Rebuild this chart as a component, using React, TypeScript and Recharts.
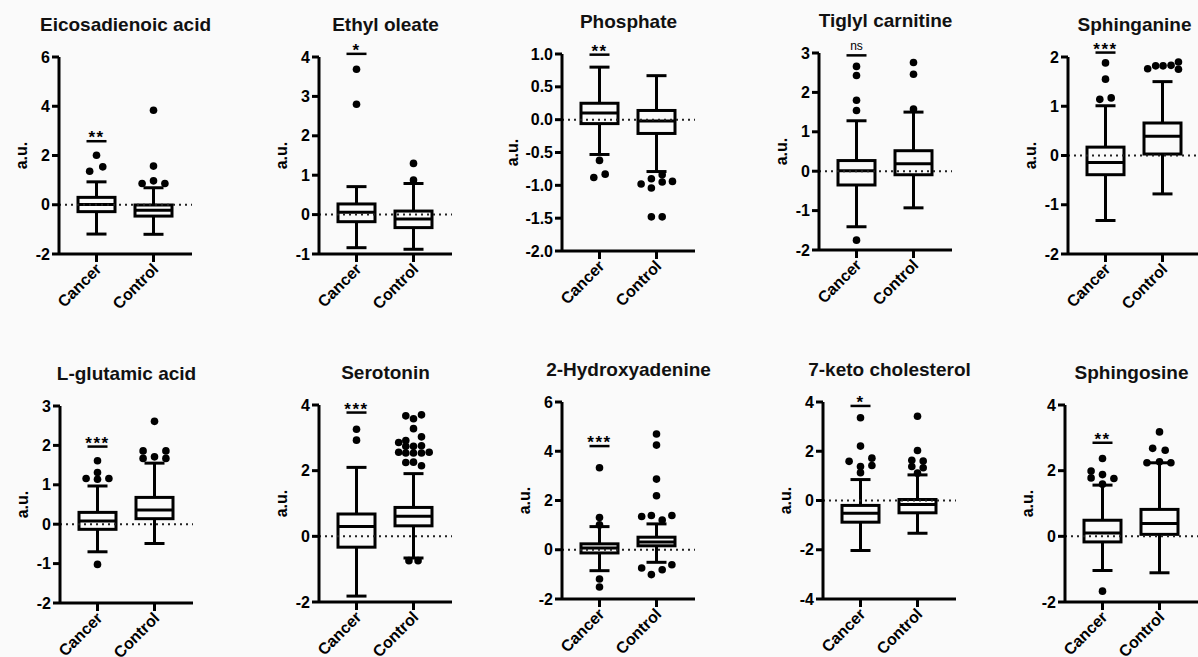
import React from 'react';
import { ComposedChart, Bar, Scatter, XAxis, YAxis, ReferenceLine, ReferenceDot } from 'recharts';

const groups = ['Cancer', 'Control'];

const titles = [
  'Eicosadienoic acid',
  'Ethyl oleate',
  'Phosphate',
  'Tiglyl carnitine',
  'Sphinganine',
  'L-glutamic acid',
  'Serotonin',
  '2-Hydroxyadenine',
  '7-keto cholesterol',
  'Sphingosine',
];

const yTicks = [
  [-2, 0, 2, 4, 6],
  [-1, 0, 1, 2, 3, 4],
  [-2, -1.5, -1, -0.5, 0, 0.5, 1],
  [-2, -1, 0, 1, 2, 3],
  [-2, -1, 0, 1, 2],
  [-2, -1, 0, 1, 2, 3],
  [-2, 0, 2, 4],
  [-2, 0, 2, 4, 6],
  [-4, -2, 0, 2, 4],
  [-2, 0, 2, 4],
];

// [min, q1, median, q3, max]
const cancerStats = [
  [-1.19, -0.28, 0.01, 0.3, 0.93],
  [-0.84, -0.18, 0.06, 0.27, 0.71],
  [-0.53, -0.06, 0.1, 0.25, 0.8],
  [-1.41, -0.35, 0.01, 0.27, 1.28],
  [-1.32, -0.39, -0.14, 0.17, 1.01],
  [-0.7, -0.13, 0.08, 0.3, 0.97],
  [-1.82, -0.33, 0.3, 0.68, 2.1],
  [-0.85, -0.13, 0.07, 0.24, 0.94],
  [-2.03, -0.88, -0.52, -0.2, 0.85],
  [-1.04, -0.17, 0.1, 0.49, 1.56],
];

const controlStats = [
  [-1.2, -0.46, -0.22, -0.01, 0.69],
  [-0.88, -0.33, -0.11, 0.09, 0.79],
  [-0.79, -0.21, -0.02, 0.14, 0.67],
  [-0.93, -0.09, 0.19, 0.52, 1.5],
  [-0.78, 0.03, 0.39, 0.66, 1.5],
  [-0.49, 0.14, 0.36, 0.68, 1.55],
  [-0.66, 0.32, 0.61, 0.88, 1.91],
  [-0.51, 0.16, 0.31, 0.51, 1.05],
  [-1.33, -0.5, -0.16, 0.04, 1.04],
  [-1.11, 0.06, 0.39, 0.82, 2.24],
];

// [horizontal jitter in group units, value]
const cancerOutliers = [
  [[-0.12, 1.36], [0, 2.01], [0.11, 1.54]],
  [[0, 3.69], [0, 2.8]],
  [[0, -0.62], [-0.1, -0.88], [0.1, -0.83]],
  [[0, 2.66], [0, 2.43], [0, 1.8], [0, 1.54], [0, -1.75]],
  [[0, 1.88], [0, 1.55], [-0.1, 1.14], [0.1, 1.17]],
  [[0, 1.61], [0, 1.31], [-0.2, 1.16], [0, 1.14], [0.2, 1.16], [0, -1.02]],
  [[0, 3.26], [0, 2.93]],
  [[0, 3.33], [0, 1.31], [0, 1.01], [0, -1.19], [0, -1.51]],
  [[0, 3.36], [0, 2.21], [-0.2, 1.59], [0.2, 1.72], [0, 1.38], [0.2, 1.42], [0, 1.13]],
  [[0, 2.37], [-0.2, 1.99], [-0.2, 1.78], [0, 1.88], [0.2, 1.76], [0, 1.59], [0, -1.67]],
];

const controlOutliers = [
  [[0, 3.84], [0, 1.57], [-0.2, 0.86], [0, 0.97], [0.2, 0.86]],
  [[0, 1.3], [0, 0.88]],
  [[0.1, -0.84], [-0.27, -0.98], [-0.09, -0.9], [0.1, -0.95], [0.28, -0.94], [-0.09, -1.04], [-0.09, -1.48], [0.1, -1.48]],
  [[0, 2.76], [0, 2.46], [0, 1.58]],
  [[-0.26, 1.76], [-0.12, 1.82], [0.01, 1.82], [0.15, 1.83], [0.28, 1.9], [0.28, 1.75]],
  [[0, 2.61], [-0.2, 1.86], [0.2, 1.86], [-0.2, 1.67], [0, 1.71], [0.2, 1.67]],
  [
    [-0.135, 3.67], [0, 3.58], [0.14, 3.7], [0, 3.28],
    [-0.26, 2.86], [-0.135, 2.92], [0.14, 3.03],
    [-0.135, 2.74], [0, 2.74], [0.14, 2.76],
    [-0.26, 2.56], [-0.135, 2.54], [0, 2.54], [0.14, 2.54], [0.275, 2.56],
    [-0.135, 2.25], [0, 2.26], [0.14, 2.15],
    [-0.08, -0.74], [0.08, -0.74],
  ],
  [[0, 4.7], [0, 4.25], [0, 2.87], [0, 2.19], [-0.26, 1.35], [-0.09, 1.39], [0.1, 1.21], [0.27, 1.39], [-0.26, -0.74], [-0.09, -1.01], [0.1, -0.81], [0.27, -0.61]],
  [[0, 3.42], [0, 2.03], [-0.1, 1.63], [0.1, 1.6], [-0.1, 1.38], [0.1, 1.33], [0, 1.11]],
  [[0, 3.18], [-0.12, 2.68], [0.1, 2.62], [-0.22, 2.24], [0, 2.27], [0.2, 2.24]],
];

const sigValue = [2.58, 4.08, 0.99, 2.94, 2.09, 1.97, 3.77, 4.21, 3.84, 2.85];
const sigLabel = ['**', '*', '**', 'ns', '***', '***', '***', '***', '*', '**'];

// layout: where each panel's y axis line and top tick sit on the page
const axisLeft = [59, 319, 562, 819, 1068, 60, 319, 562, 823, 1065];
const axisTop = [57, 57, 54, 53, 57, 406, 405, 402, 402, 405];

const FONT = '"Liberation Sans", Arial, Helvetica, sans-serif';
const PLOT_W = 133;
const PLOT_H = 197;
const TOP = 60;
const LEFT = 60;
const RIGHT = 10;
const X_AXIS_H = 70;
const CHART_W = LEFT + PLOT_W + RIGHT;
const CHART_H = TOP + PLOT_H + X_AXIS_H;

function BoxShape(props: any) {
  const { x, y, width, height, payload } = props;
  const [min, q1, med, q3, max] = payload.stats;
  const top = Math.min(y, y + height);
  const bot = Math.max(y, y + height);
  const py = (v: number) => top + ((max - v) / (max - min)) * (bot - top);
  const cx = x + width / 2;
  const cap = 10;
  return (
    <g stroke="#000" strokeWidth={3} fill="none">
      <line x1={cx} x2={cx} y1={py(max)} y2={py(q3)} />
      <line x1={cx} x2={cx} y1={py(q1)} y2={py(min)} />
      <line x1={cx - cap} x2={cx + cap} y1={py(max)} y2={py(max)} />
      <line x1={cx - cap} x2={cx + cap} y1={py(min)} y2={py(min)} />
      <rect x={x} y={py(q3)} width={width} height={py(q1) - py(q3)} />
      <line x1={x} x2={x + width} y1={py(med)} y2={py(med)} />
    </g>
  );
}

function OutlierDot(props: any) {
  return <circle cx={props.cx} cy={props.cy} r={3.8} fill="#000" />;
}

function SigMark({ cx, cy, label }: any) {
  const ns = label === 'ns';
  return (
    <g>
      <line x1={cx - 10} x2={cx + 10} y1={cy} y2={cy} stroke="#000" strokeWidth={2.5} />
      <text
        x={cx}
        y={ns ? cy - 5 : cy + 2}
        textAnchor="middle"
        fontFamily={FONT}
        fontSize={ns ? 12 : 17}
        fontWeight={ns ? 'normal' : 'bold'}
        letterSpacing={ns ? 0 : 1.5}
        fill="#000"
      >
        {label}
      </text>
    </g>
  );
}

function GroupTick({ x, y, payload }: any) {
  const ax = x + 6;
  const ay = y + 6;
  return (
    <text
      x={ax}
      y={ay}
      transform={`rotate(-45, ${ax}, ${ay})`}
      textAnchor="end"
      fontFamily={FONT}
      fontSize={16}
      fontWeight="bold"
      fill="#000"
    >
      {payload.value}
    </text>
  );
}

function ValueTick({ x, y, payload, decimal }: any) {
  const v = payload.value as number;
  return (
    <text
      x={x}
      y={y}
      dy={5.5}
      textAnchor="end"
      fontFamily={FONT}
      fontSize={16}
      fontWeight="bold"
      fill="#000"
    >
      {decimal ? v.toFixed(1) : String(v)}
    </text>
  );
}

function Panel({ i }: { i: number }) {
  const data = groups.map((g, k) => {
    const s = k === 0 ? cancerStats[i] : controlStats[i];
    return { name: g, range: [s[0], s[4]], stats: s };
  });
  const pts = [
    ...cancerOutliers[i].map(([dx, v]) => ({ x: 0.5 + dx, y: v })),
    ...controlOutliers[i].map(([dx, v]) => ({ x: 1.5 + dx, y: v })),
  ];
  const t = yTicks[i];
  const decimal = t.some((v) => !Number.isInteger(v));
  const axisStyle = { stroke: '#000', strokeWidth: 3 };

  return (
    <div
      style={{
        position: 'absolute',
        left: axisLeft[i] - LEFT,
        top: axisTop[i] - TOP,
        width: CHART_W,
        height: CHART_H,
      }}
    >
      <div
        style={{
          position: 'absolute',
          left: LEFT - 80,
          width: PLOT_W + 160,
          top: TOP - 32 - 12,
          lineHeight: '24px',
          textAlign: 'center',
          fontSize: 19,
          fontWeight: 'bold',
          whiteSpace: 'nowrap',
          fontFamily: FONT,
          color: '#111',
        }}
      >
        {titles[i]}
      </div>
      <ComposedChart
        width={CHART_W}
        height={CHART_H}
        data={data}
        margin={{ top: TOP, right: RIGHT, bottom: 0, left: 0 }}
      >
        <XAxis
          xAxisId="g"
          dataKey="name"
          height={X_AXIS_H}
          padding={{ left: 9, right: 10 }}
          interval={0}
          tickSize={8}
          axisLine={axisStyle}
          tickLine={axisStyle}
          tick={<GroupTick />}
        />
        <XAxis xAxisId="n" type="number" dataKey="x" domain={[0, 2]} padding={{ left: 9, right: 10 }} hide />
        <YAxis
          width={LEFT}
          type="number"
          domain={[t[0], t[t.length - 1]]}
          ticks={t}
          interval={0}
          tickSize={7}
          axisLine={axisStyle}
          tickLine={axisStyle}
          tick={<ValueTick decimal={decimal} />}
          label={{
            value: 'a.u.',
            angle: -90,
            position: 'insideLeft',
            offset: decimal ? 10 : 22,
            style: { textAnchor: 'middle', fontWeight: 'bold', fontSize: 16, fill: '#000', fontFamily: FONT },
          }}
        />
        <ReferenceLine xAxisId="g" y={0} stroke="#222" strokeWidth={2} strokeDasharray="2 4" />
        <Bar xAxisId="g" dataKey="range" barSize={37} shape={BoxShape} isAnimationActive={false} />
        <Scatter xAxisId="n" data={pts} dataKey="y" shape={OutlierDot} isAnimationActive={false} />
        <ReferenceDot
          xAxisId="n"
          x={0.5}
          y={sigValue[i]}
          ifOverflow="visible"
          shape={(p: any) => <SigMark cx={p.cx} cy={p.cy} label={sigLabel[i]} />}
        />
      </ComposedChart>
    </div>
  );
}

export default function App() {
  return (
    <div
      style={{
        position: 'fixed',
        left: 0,
        top: 0,
        width: 1198,
        height: 657,
        overflow: 'hidden',
        background: '#fafafa',
      }}
    >
      {titles.map((_, i) => (
        <Panel key={i} i={i} />
      ))}
    </div>
  );
}
